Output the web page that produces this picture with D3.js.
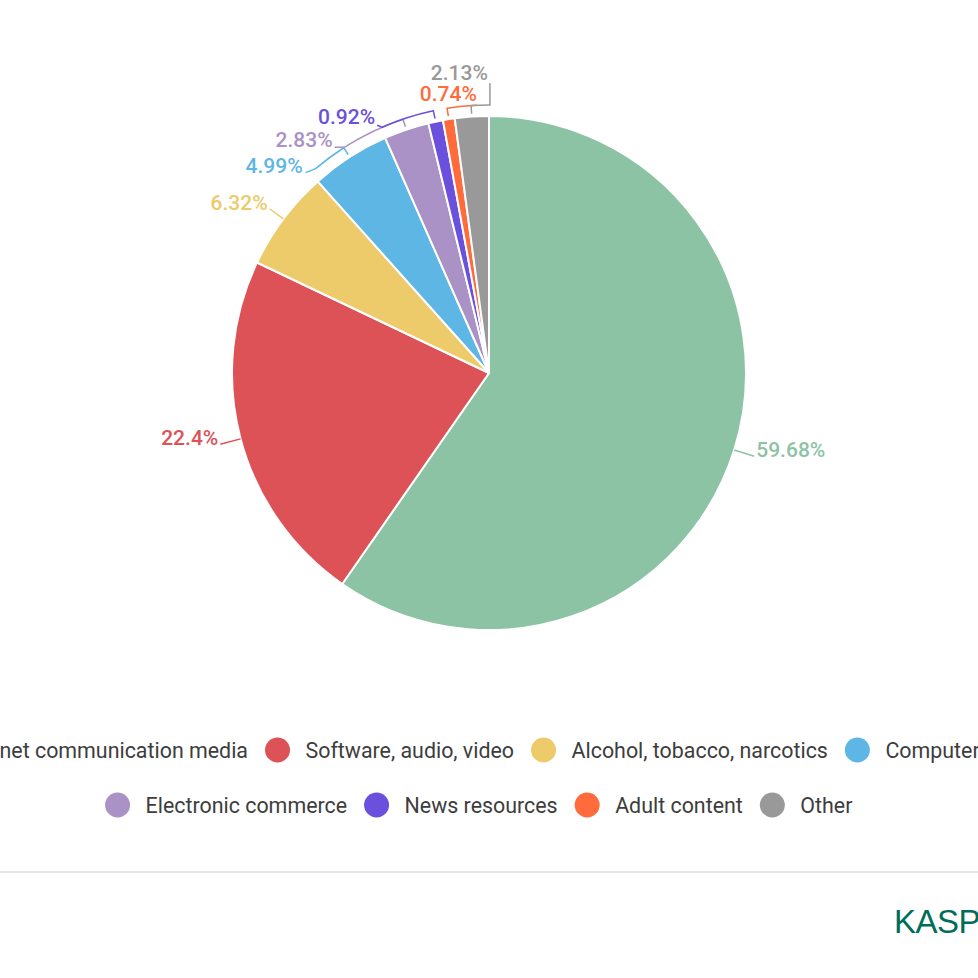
<!DOCTYPE html>
<html><head><meta charset="utf-8">
<script src="https://cdn.jsdelivr.net/npm/d3@7"></script>
<style>
html,body{margin:0;padding:0;background:#fff;overflow:hidden;}
svg{display:block;font-family:Roboto,"Noto Sans",sans-serif;}
</style></head>
<body>
<script>
const categories = ["Internet communication media","Software, audio, video","Alcohol, tobacco, narcotics","Computer games","Electronic commerce","News resources","Adult content","Other"];
const values = [59.68, 22.4, 6.32, 4.99, 2.83, 0.92, 0.74, 2.13];
const valueLabels = ["59.68%","22.4%","6.32%","4.99%","2.83%","0.92%","0.74%","2.13%"];
const colors = ["#8cc3a5","#dc5257","#edca6a","#5db6e3","#aa91c6","#6b50dd","#ff6b3b","#999999"];
const legendRows = [[0,1,2,3],[4,5,6,7]];

// label layout (style): big = straight radial leader, small = arc bracket leader
const labelLayout = [
  {type:"big"},{type:"big"},{type:"big",len:17},
  {type:"small", a:319.7, tx:-13, ty:4, sx:-10, sy:4},
  {type:"small", a:327.4, tx:-12, ty:0, sx:-10, sy:0},
  {type:"small", a:336.5, tx:-7, ty:-3, sx:-5, sy:-2},
  {type:"small", a:357.4, tx:0, ty:-4, sx:0, sy:0},
  {type:"small", a:360.2, tx:-2, ty:-25, sx:0, sy:-22}
];

const W = 978, H = 978, cx = 489, cy = 373, R = 257, RO = 268;
const svg = d3.select("body").append("svg").attr("width",W).attr("height",H);
svg.append("rect").attr("width",W).attr("height",H).attr("fill","#fff");

const pie = d3.pie().sort(null).value(d=>d)(values);
const arc = d3.arc().innerRadius(0).outerRadius(R);
const g = svg.append("g").attr("transform",`translate(${cx},${cy})`);
g.selectAll("path.slice").data(pie).join("path").attr("class","slice")
  .attr("d",arc).attr("fill",(d,i)=>colors[i]).attr("stroke","#fff").attr("stroke-width",2);

const P = (deg, r) => { const t = deg*Math.PI/180; return [r*Math.sin(t), -r*Math.cos(t)]; };
const lg = g.append("g");
pie.forEach((d,i)=>{
  const L = labelLayout[i];
  const mid = (d.startAngle+d.endAngle)/2*180/Math.PI;
  const col = colors[i];
  if (L.type==="big") {
    const len = L.len||21;
    const p0 = P(mid, R), p1 = P(mid, R+len);
    lg.append("path").attr("d",`M${p0[0]},${p0[1]}L${p1[0]},${p1[1]}`).attr("stroke",col).attr("stroke-width",1.5).attr("fill","none");
    const right = p1[0] > 0;
    lg.append("text").attr("x", p1[0] + (right?2:-2)).attr("y", p1[1]+1)
      .attr("text-anchor", right?"start":"end").attr("fill",col)
      .attr("font-size",21).attr("font-weight",500).text(valueLabels[i]);
  } else {
    const A = P(L.a, RO), M = P(mid, RO), T = P(mid, R+3);
    const S = [A[0]+L.sx, A[1]+L.sy];
    const sweep = mid > L.a ? 1 : 0;
    lg.append("path").attr("d",`M${S[0]},${S[1]}L${A[0]},${A[1]}A${RO},${RO} 0 0 ${sweep} ${M[0]},${M[1]}L${T[0]},${T[1]}`)
      .attr("stroke",col).attr("stroke-width",1.5).attr("fill","none");
    lg.append("text").attr("x", A[0]+L.tx).attr("y", A[1]+L.ty)
      .attr("text-anchor","end").attr("fill",col)
      .attr("font-size",21).attr("font-weight",500).text(valueLabels[i]);
  }
});

// legend
const rowY = [750, 805];
const rowCenter = [492, 488];
legendRows.forEach((row, ri)=>{
  const lgRow = svg.append("g");
  let x = 0;
  row.forEach(i=>{
    const it = lgRow.append("g");
    it.append("circle").attr("cx", x+12.5).attr("cy", 0).attr("r",12.5).attr("fill",colors[i]);
    const t = it.append("text").attr("x", x+40.5).attr("y", 0).attr("dy","0.35em")
      .attr("font-size",21.4).attr("fill","#3d3d3d").text(categories[i]);
    const w = t.node().getComputedTextLength();
    x += 40.5 + w + (i===row[row.length-1] ? 18.5 : 17);
  });
  const start = rowCenter[ri] - x/2;
  lgRow.attr("transform",`translate(${start},${rowY[ri]})`);
});

// divider
svg.append("line").attr("x1",0).attr("x2",W).attr("y1",872).attr("y2",872).attr("stroke","#dddddd").attr("stroke-width",1.5);
// logo
svg.append("text").attr("x",894).attr("y",933).attr("font-size",33).attr("font-family","'Liberation Sans',sans-serif")
  .attr("fill","#006d5b").attr("letter-spacing",-0.5).text("KASPERSKY");
</script>
</body></html>
